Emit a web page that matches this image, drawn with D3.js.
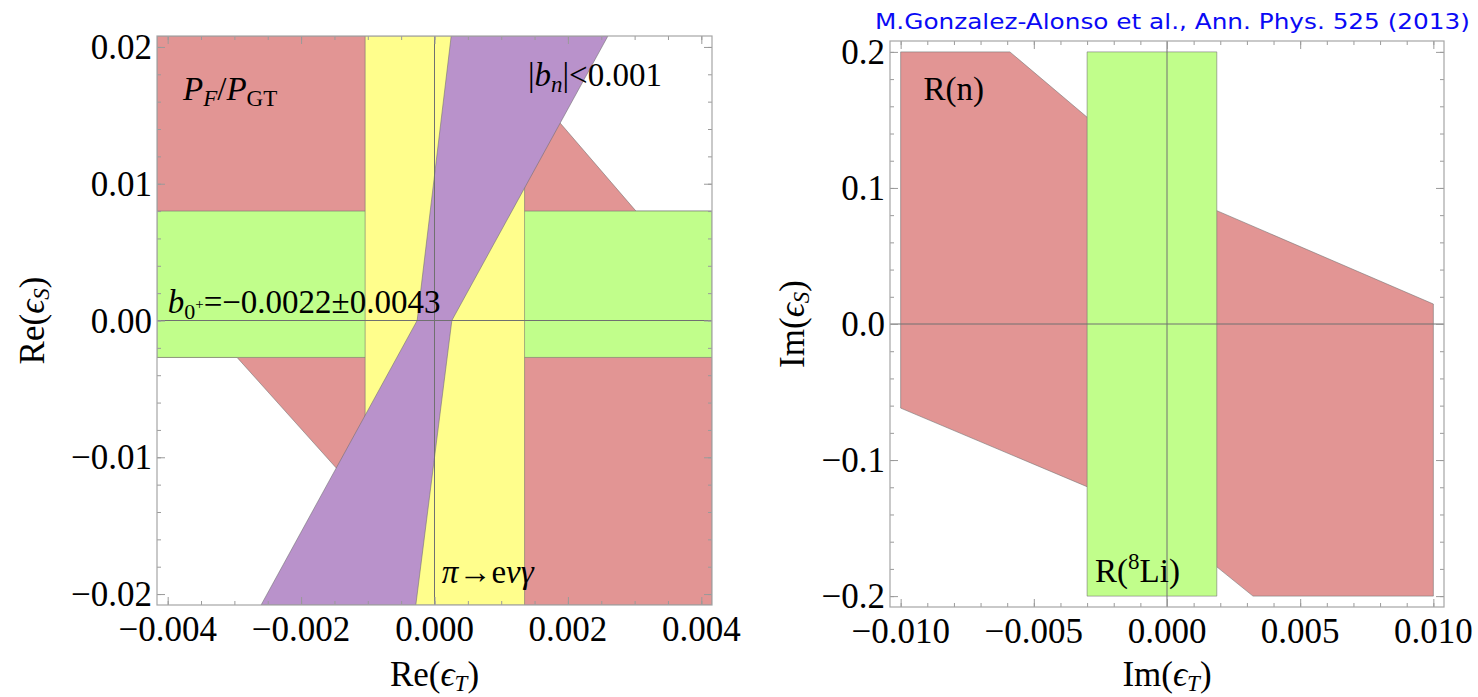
<!DOCTYPE html>
<html>
<head>
<meta charset="utf-8">
<script src="https://cdnjs.cloudflare.com/ajax/libs/d3/7.8.5/d3.min.js"></script>
<style>
  body { margin: 0; background: #fff; }
  svg text { font-family: "Liberation Serif", "Times New Roman", serif; fill: #000; }
  .tick line { stroke: #9a9a9a; stroke-width: 1; }
  .domain { display: none; }
</style>
</head>
<body>
<svg id="chart" width="1478" height="697"></svg>
<script>
/* ============================================================
   DATA
   ============================================================ */

// left panel: Re(eps_T) vs Re(eps_S)
const RE_T_TICKS  = [-0.004, -0.002, 0, 0.002, 0.004];
const RE_T_LABELS = ['\u22120.004', '\u22120.002', '0.000', '0.002', '0.004'];
const RE_S_TICKS  = [-0.02, -0.01, 0, 0.01, 0.02];
const RE_S_LABELS = ['\u22120.02', '\u22120.01', '0.00', '0.01', '0.02'];

// P_F/P_GT allowed region (red)
const PFPGT_REGION = [
  [-0.00416, 0.0208], [0.00076, 0.0208], [0.00302, 0.0080], [0.00416, 0.0080],
  [0.00416, -0.0208], [0.00037, -0.0208], [-0.00296, -0.0027], [-0.00416, -0.0027]
];
// b_0+ band (green)
const B0_BAND = [[-0.00416, 0.0080], [0.00416, 0.0080], [0.00416, -0.0027], [-0.00416, -0.0027]];
// pi -> e nu gamma band (yellow)
const PI_BAND = [[-0.00104, 0.0208], [0.00135, 0.0208], [0.00135, -0.0208], [-0.00104, -0.0208]];
// |b_n| < 0.001 region (purple)
const BN_REGION = [
  [0.00025, 0.0208], [0.0026, 0.0208], [0.00026, 0],
  [-0.00028, -0.0208], [-0.0026, -0.0208], [-0.00026, 0]
];

// right panel: Im(eps_T) vs Im(eps_S)
const IM_T_TICKS  = [-0.01, -0.005, 0, 0.005, 0.01];
const IM_T_LABELS = ['\u22120.010', '\u22120.005', '0.000', '0.005', '0.010'];
const IM_S_TICKS  = [-0.2, -0.1, 0, 0.1, 0.2];
const IM_S_LABELS = ['\u22120.2', '\u22120.1', '0.0', '0.1', '0.2'];

// R(n) allowed region (red)
const RN_REGION = [
  [-0.010, 0.2], [-0.0059, 0.2], [-0.0030, 0.152], [0.00187, 0.0833], [0.010, 0.0147],
  [0.010, -0.2], [0.00323, -0.2], [0.00187, -0.1785], [-0.0030, -0.1196], [-0.010, -0.0618]
];
// R(8Li) band (green)
const LI8_BAND = [[-0.0030, 0.2], [0.00187, 0.2], [0.00187, -0.2], [-0.0030, -0.2]];

const COLORS = {
  red:    '#e29594',
  green:  '#c1fe8b',
  yellow: '#fffe8c',
  purple: '#b992cb',
  edge:   'rgba(110,110,110,0.55)',
  frame:  '#a6a6a6',
  zero:   '#707070',
};

const TICK_FONT = 35;
const NOTE_FONT = 33;

/* ============================================================
   PANEL BUILDER
   ============================================================ */

const svg = d3.select('#chart');

function buildPanel(cfg) {
  const x = d3.scaleLinear().domain(cfg.xDomain).range([cfg.left, cfg.right]);
  const y = d3.scaleLinear().domain(cfg.yDomain).range([cfg.bottom, cfg.top]);
  const g = svg.append('g');

  const clipId = 'clip-' + cfg.id;
  g.append('clipPath').attr('id', clipId)
    .append('rect')
    .attr('x', cfg.left).attr('y', cfg.top)
    .attr('width', cfg.right - cfg.left).attr('height', cfg.bottom - cfg.top);

  const line = d3.line().x(d => x(d[0])).y(d => y(d[1]));

  // regions, painted in order
  const plot = g.append('g').attr('clip-path', `url(#${clipId})`);
  plot.selectAll('path.region')
    .data(cfg.regions)
    .join('path')
    .attr('class', 'region')
    .attr('d', d => line(d.pts) + 'Z')
    .attr('fill', d => d.color)
    .attr('stroke', COLORS.edge)
    .attr('stroke-width', 1);

  // zero axes
  plot.append('line')
    .attr('x1', x(0)).attr('x2', x(0)).attr('y1', cfg.top).attr('y2', cfg.bottom)
    .attr('stroke', COLORS.zero).attr('stroke-width', 1);
  plot.append('line')
    .attr('x1', cfg.left).attr('x2', cfg.right).attr('y1', y(0)).attr('y2', y(0))
    .attr('stroke', COLORS.zero).attr('stroke-width', 1);

  // frame ticks (inside, all four sides)
  const xMinor = x.ticks(cfg.xMinorCount);
  const yMinor = y.ticks(cfg.yMinorCount);
  const sides = [
    [d3.axisBottom(x), `translate(0,${cfg.bottom})`, xMinor, cfg.xTicks],
    [d3.axisTop(x),    `translate(0,${cfg.top})`,    xMinor, cfg.xTicks],
    [d3.axisLeft(y),   `translate(${cfg.left},0)`,   yMinor, cfg.yTicks],
    [d3.axisRight(y),  `translate(${cfg.right},0)`,  yMinor, cfg.yTicks],
  ];
  sides.forEach(([axis, tr, minor, major]) => {
    g.append('g').attr('transform', tr)
      .call(axis.tickValues(minor).tickSize(-4).tickFormat(''));
    g.append('g').attr('transform', tr)
      .call(axis.tickValues(major).tickSize(-8).tickFormat(''));
  });

  g.append('rect')
    .attr('x', cfg.left).attr('y', cfg.top)
    .attr('width', cfg.right - cfg.left).attr('height', cfg.bottom - cfg.top)
    .attr('fill', 'none').attr('stroke', COLORS.frame).attr('stroke-width', 1.2);

  // tick labels
  g.selectAll('text.xl')
    .data(cfg.xTicks)
    .join('text')
    .attr('class', 'xl')
    .attr('x', d => x(d)).attr('y', cfg.bottom + 36)
    .attr('text-anchor', 'middle')
    .attr('font-size', TICK_FONT)
    .text((d, i) => cfg.xLabels[i]);
  g.selectAll('text.yl')
    .data(cfg.yTicks)
    .join('text')
    .attr('class', 'yl')
    .attr('x', cfg.left - 5).attr('y', d => y(d) + 12)
    .attr('text-anchor', 'end')
    .attr('font-size', TICK_FONT)
    .text((d, i) => cfg.yLabels[i]);

  // axis titles
  const xt = g.append('text')
    .attr('x', (cfg.left + cfg.right) / 2).attr('y', 686)
    .attr('text-anchor', 'middle').attr('font-size', TICK_FONT);
  addEps(xt, cfg.xTitle, 'T');

  const yt = g.append('text')
    .attr('transform', `translate(${cfg.yTitleX},${(cfg.top + cfg.bottom) / 2}) rotate(-90)`)
    .attr('text-anchor', 'middle').attr('font-size', TICK_FONT);
  addEps(yt, cfg.yTitle, 'S');

  return { x, y, g };
}

function addEps(t, prefix, sub) {
  t.append('tspan').text(prefix + '(');
  t.append('tspan').attr('font-style', 'italic').text('\u03f5');
  t.append('tspan').attr('font-style', 'italic').attr('font-size', 23).attr('dy', 5).text(sub);
  t.append('tspan').attr('dy', -5).text(')');
}

/* ============================================================
   LEFT PANEL
   ============================================================ */

const L = buildPanel({
  id: 're',
  left: 157, right: 712, top: 36, bottom: 605,
  xDomain: [-0.00416, 0.00416], yDomain: [-0.0208, 0.0208],
  xTicks: RE_T_TICKS, xLabels: RE_T_LABELS,
  yTicks: RE_S_TICKS, yLabels: RE_S_LABELS,
  xMinorCount: 17, yMinorCount: 21,
  xTitle: 'Re', yTitle: 'Re', yTitleX: 44,
  regions: [
    { pts: PFPGT_REGION, color: COLORS.red },
    { pts: B0_BAND,      color: COLORS.green },
    { pts: PI_BAND,      color: COLORS.yellow },
    { pts: BN_REGION,    color: COLORS.purple },
  ],
});

// annotations
let t = L.g.append('text').attr('font-size', NOTE_FONT)
  .attr('x', L.x(-0.00377)).attr('y', L.y(0.0161));
t.append('tspan').attr('font-style', 'italic').text('P');
t.append('tspan').attr('font-style', 'italic').attr('font-size', 23).attr('dy', 6).text('F');
t.append('tspan').attr('dy', -6).text('/');
t.append('tspan').attr('font-style', 'italic').text('P');
t.append('tspan').attr('font-size', 23).attr('dy', 6).text('GT');

t = L.g.append('text').attr('font-size', NOTE_FONT)
  .attr('x', L.x(0.0014)).attr('y', L.y(0.01714));
t.append('tspan').text('|');
t.append('tspan').attr('font-style', 'italic').text('b');
t.append('tspan').attr('font-style', 'italic').attr('font-size', 23).attr('dy', 6).text('n');
t.append('tspan').attr('dy', -6).text('|<0.001');

t = L.g.append('text').attr('font-size', NOTE_FONT)
  .attr('x', L.x(-0.0040)).attr('y', L.y(0.00055));
t.append('tspan').attr('font-style', 'italic').text('b');
t.append('tspan').attr('font-size', 22).attr('dy', 6).text('0');
t.append('tspan').attr('font-size', 15).attr('dy', -10).text('+');
t.append('tspan').attr('dy', 4).text('=\u22120.0022\u00b10.0043');

t = L.g.append('text').attr('font-size', NOTE_FONT)
  .attr('x', L.x(0.00011)).attr('y', L.y(-0.01919));
t.append('tspan').attr('font-style', 'italic').text('\u03c0');
t.append('tspan').text('\u2192e');
t.append('tspan').attr('font-style', 'italic').text('\u03bd\u03b3');

/* ============================================================
   RIGHT PANEL
   ============================================================ */

const R = buildPanel({
  id: 'im',
  left: 890, right: 1444, top: 41, bottom: 607,
  xDomain: [-0.0104, 0.0104], yDomain: [-0.208, 0.208],
  xTicks: IM_T_TICKS, xLabels: IM_T_LABELS,
  yTicks: IM_S_TICKS, yLabels: IM_S_LABELS,
  xMinorCount: 21, yMinorCount: 21,
  xTitle: 'Im', yTitle: 'Im', yTitleX: 804,
  regions: [
    { pts: RN_REGION, color: COLORS.red },
    { pts: LI8_BAND,  color: COLORS.green },
  ],
});

R.g.append('text').attr('font-size', NOTE_FONT)
  .attr('x', R.x(-0.00914)).attr('y', R.y(0.1648))
  .text('R(n)');

t = R.g.append('text').attr('font-size', NOTE_FONT)
  .attr('x', R.x(-0.0027)).attr('y', R.y(-0.1896));
t.append('tspan').text('R(');
t.append('tspan').attr('font-size', 23).attr('dy', -13).text('8');
t.append('tspan').attr('dy', 13).text('Li)');

// citation
svg.append('text')
  .attr('x', 875).attr('y', 29)
  .attr('font-size', 22)
  .style('fill', '#0a0af5')
  .style('font-family', '"DejaVu Sans", Verdana, sans-serif')
  .attr('textLength', 595)
  .attr('lengthAdjust', 'spacingAndGlyphs')
  .text('M.Gonzalez-Alonso et al., Ann. Phys. 525 (2013)');
</script>
</body>
</html>
